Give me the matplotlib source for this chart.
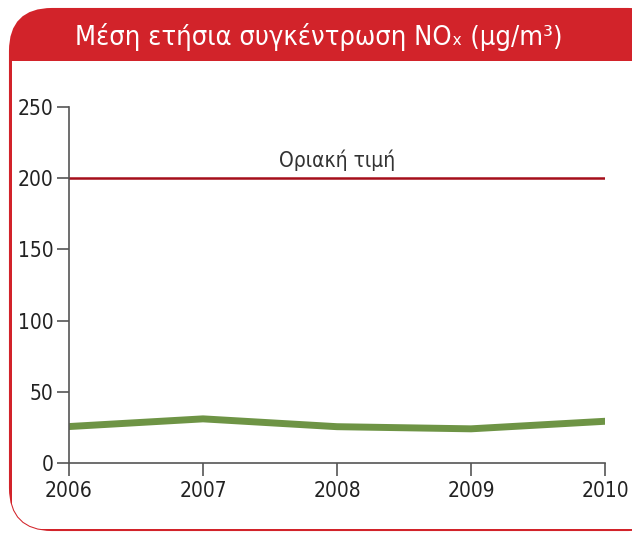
import matplotlib.pyplot as plt
from matplotlib.patches import FancyBboxPatch, Rectangle

years = [2006, 2007, 2008, 2009, 2010]
nox = [25.6, 31.0, 25.5, 24.0, 29.3]
limit_value = 200
limit_label = 'Οριακή τιμή'
title = 'Μέση ετήσια συγκέντρωση NOₓ (μg/m³)'
y_ticks = [0, 50, 100, 150, 200, 250]

plt.rcParams['font.family'] = ['DejaVu Sans']
plt.rcParams['font.stretch'] = 'condensed'

red = '#d2232a'
fig = plt.figure(figsize=(6.32, 5.35), dpi=100)

# frame and header drawn in pixel coordinates
bg = fig.add_axes([0, 0, 1, 1])
bg.set_xlim(0, 632)
bg.set_ylim(535, 0)
bg.axis('off')
frame = FancyBboxPatch((10, 9), 660, 521, boxstyle='round,pad=0,rounding_size=42',
                       facecolor=red, edgecolor=red, linewidth=1.5)
bg.add_patch(frame)
body = Rectangle((11.5, 61), 660, 467.5, facecolor='white', edgecolor='none')
bg.add_patch(body)
body.set_clip_path(frame)
bg.text(319, 37, title, color='white', fontsize=19.5, ha='center', va='center',
        fontstretch='condensed')

ax = fig.add_axes([69 / 632, 72 / 535, 536 / 632, 356 / 535])
ax.plot(years, nox, color='#6e9445', linewidth=5, solid_capstyle='round')
ax.axhline(limit_value, color='#a50f1a', linewidth=1.8)
ax.text(2008, limit_value + 5, limit_label, ha='center', va='bottom', fontsize=15,
        color='#333333', fontstretch='condensed')

ax.set_xlim(2006, 2010)
ax.set_ylim(0, 250)
ax.set_xticks(years)
ax.set_yticks(y_ticks)
for side in ['top', 'right']:
    ax.spines[side].set_visible(False)
for side in ['left', 'bottom']:
    ax.spines[side].set_color('#555555')
    ax.spines[side].set_linewidth(1.2)
ax.tick_params(axis='both', colors='#555555', length=9, width=1.2, labelsize=15,
               labelcolor='#222222')
ax.tick_params(axis='x', pad=4)
ax.tick_params(axis='y', pad=2)
for lbl in ax.get_xticklabels() + ax.get_yticklabels():
    lbl.set_fontstretch('condensed')
ax.set_facecolor('none')

fig.savefig('out.png', dpi=100)
